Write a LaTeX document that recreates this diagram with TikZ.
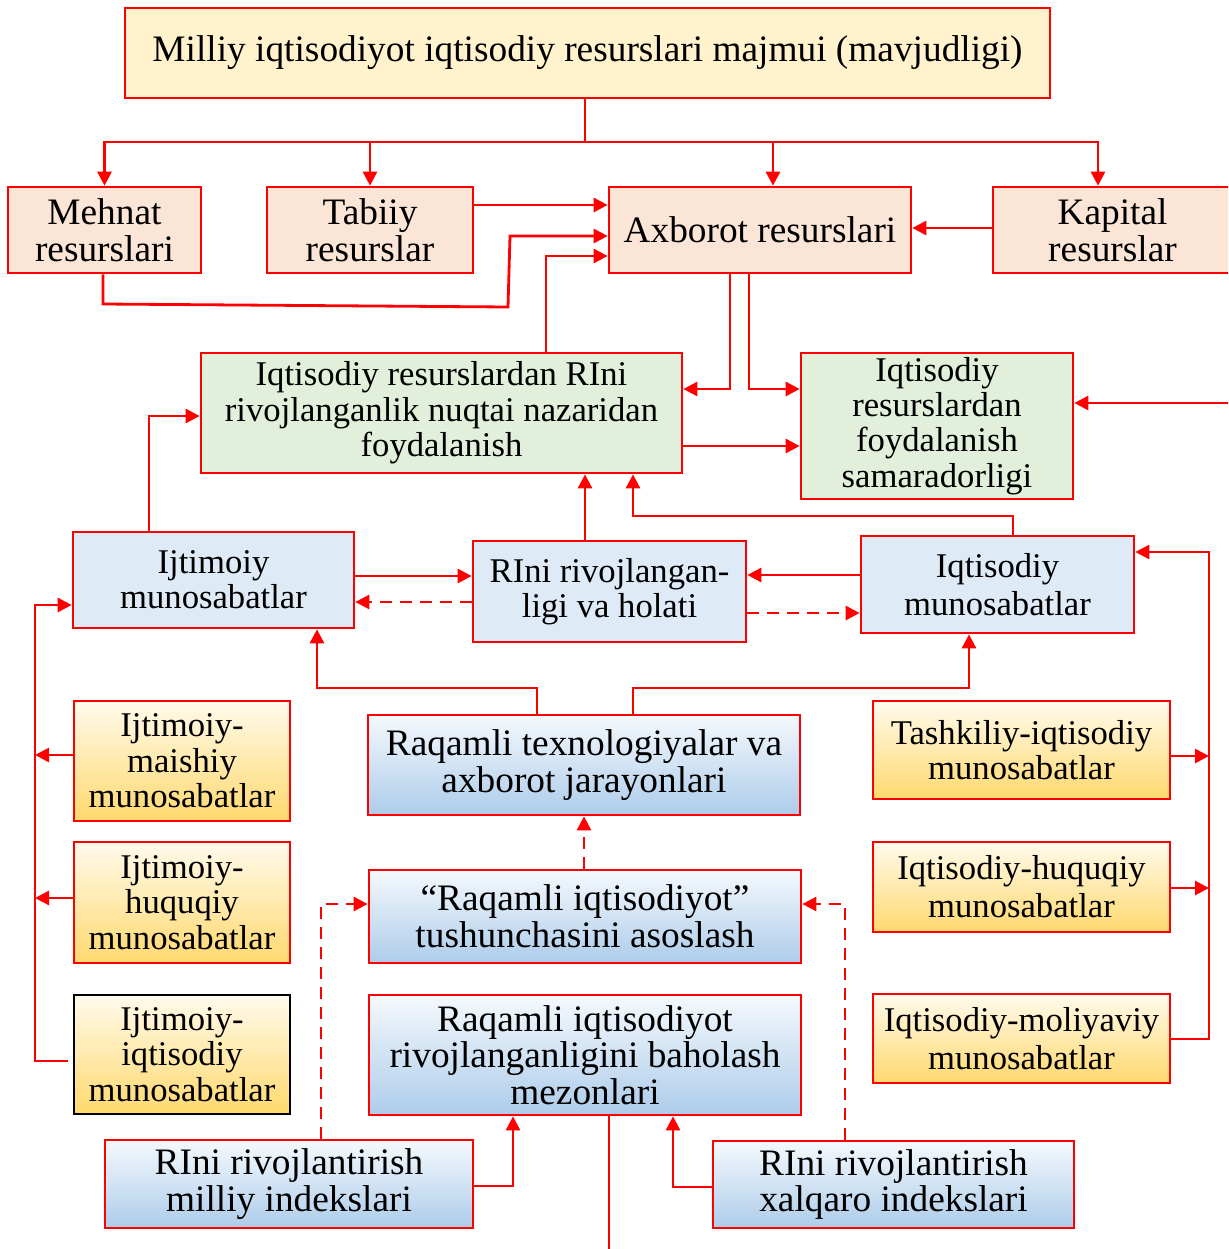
\documentclass[tikz,border=0pt]{standalone}
\usepackage{fontspec}
\setmainfont{Liberation Serif}
\usetikzlibrary{arrows.meta,calc}
\definecolor{topfill}{HTML}{FFF2CC}
\definecolor{peach}{HTML}{FBE5D6}
\definecolor{greenfill}{HTML}{E2EFDA}
\definecolor{bluefill}{HTML}{DEEBF7}
\definecolor{bluetop}{HTML}{F5F9FD}
\definecolor{bluebot}{HTML}{ADCCEA}
\definecolor{goldtop}{HTML}{FFFAEC}
\definecolor{goldbot}{HTML}{FFD96E}
\definecolor{linered}{HTML}{FF0000}
\newcommand\mkbox[7]{%
  \pgfmathsetmacro\bxw{(#4-#2)*0.75}%
  \pgfmathsetmacro\bxh{(#5-#3)*0.75}%
  \node[#6, minimum width=\bxw pt, minimum height=\bxh pt] (#1) at ({(#2+#4)/2},{(#3+#5)/2}) {#7};}
\begin{document}
\begin{tikzpicture}[x=0.75pt,y=-0.75pt,
  font=\fontsize{26}{26.5}\selectfont,
  bigtxt/.style={font=\fontsize{28}{27.5}\selectfont},
  boxbase/.style={draw=linered, line width=2pt, align=center, inner sep=1pt},
  topbox/.style={boxbase, bigtxt, fill=topfill},
  resbox/.style={boxbase, bigtxt, fill=peach},
  greenbox/.style={boxbase, fill=greenfill},
  bluebox/.style={boxbase, fill=bluefill},
  gradblue/.style={boxbase, bigtxt, top color=bluetop, bottom color=bluebot},
  gradgold/.style={boxbase, top color=goldtop, bottom color=goldbot},
  conn/.style={draw=linered, line width=2.1pt},
  arr/.style={conn, -{Triangle[length=10.5pt,width=10.5pt]}},
  dsh/.style={dash pattern=on 9pt off 6pt}]
\clip (0,0) rectangle (1228,1249);
\fill[white] (0,0) rectangle (1228,1249);

% nodes
\mkbox{top}{125}{8}{1050}{98}{topbox}{Milliy iqtisodiyot iqtisodiy resurslari majmui (mavjudligi)}
\mkbox{mehnat}{8}{187}{201}{273}{resbox}{Mehnat\\resurslari}
\mkbox{tabiiy}{267}{187}{473}{273}{resbox}{Tabiiy\\resurslar}
\mkbox{axborot}{609}{187}{911}{273}{resbox}{Axborot resurslari}
\mkbox{kapital}{993}{187}{1232}{273}{resbox}{Kapital\\resurslar}
\mkbox{gone}{201}{353}{682}{473}{greenbox}{Iqtisodiy resurslardan RIni\\rivojlanganlik nuqtai nazaridan\\foydalanish}
\mkbox{gtwo}{801}{353}{1073}{499}{greenbox}{Iqtisodiy\\resurslardan\\foydalanish\\samaradorligi}
\mkbox{ijt}{73}{532}{354}{628}{bluebox}{Ijtimoiy\\munosabatlar}
\mkbox{rini}{473}{541}{746}{642}{bluebox}{RIni rivojlangan-\\ligi va holati}
\mkbox{iqm}{861}{536}{1134}{633}{bluebox}{Iqtisodiy\\[2pt]munosabatlar}
\mkbox{raq}{368}{715}{800}{815}{gradblue}{Raqamli texnologiyalar va\\axborot jarayonlari}
\mkbox{tush}{369}{870}{801}{963}{gradblue}{“Raqamli iqtisodiyot”\\tushunchasini asoslash}
\mkbox{mez}{369}{995}{801}{1115}{gradblue}{Raqamli iqtisodiyot\\rivojlanganligini baholash\\mezonlari}
\mkbox{mil}{105}{1140}{473}{1228}{gradblue}{RIni rivojlantirish\\milliy indekslari}
\mkbox{xal}{713}{1141}{1074}{1228}{gradblue}{RIni rivojlantirish\\xalqaro indekslari}
\mkbox{maishiy}{74}{701}{290}{821}{gradgold}{Ijtimoiy-\\maishiy\\munosabatlar}
\mkbox{huq}{74}{842}{290}{963}{gradgold}{Ijtimoiy-\\huquqiy\\munosabatlar}
\mkbox{iqt}{74}{995}{290}{1114}{gradgold, draw=black}{Ijtimoiy-\\iqtisodiy\\munosabatlar}
\mkbox{tash}{873}{701}{1170}{799}{gradgold}{Tashkiliy-iqtisodiy\\munosabatlar}
\mkbox{ihuq}{873}{842}{1170}{932}{gradgold}{Iqtisodiy-huquqiy\\[2pt]munosabatlar}
\mkbox{mol}{873}{994}{1170}{1083}{gradgold}{Iqtisodiy-moliyaviy\\[2pt]munosabatlar}

% top fan-out
\coordinate (hub) at (585,142);
\draw[conn] (top.south -| hub) -- (hub);
\draw[arr] (hub) -| (mehnat.north);
\draw[arr] (hub) -| (tabiiy.north);
\draw[arr] (hub) -| ($(axborot.north)+(13,0)$);
\draw[arr] (hub) -| ($(kapital.north)+(-14.5,0)$);

% into Axborot
\draw[arr] (tabiiy.east |- 0,205) -- (axborot.west |- 0,205);
\draw[arr] (mehnat.south -| 103,0) -- (103,304) -- (508,307) -- (510,236) -- (axborot.west |- 0,236);
\draw[arr] (gone.north -| 546,0) |- (axborot.west |- 0,256);
\draw[arr] (kapital.west |- 0,228) -- (axborot.east |- 0,228);

% out of Axborot
\draw[arr] (axborot.south -| 730,0) |- (gone.east |- 0,389);
\draw[arr] (axborot.south -| 749,0) |- (gtwo.west |- 0,389);
\draw[arr] (gone.east |- 0,446) -- (gtwo.west |- 0,446);
\coordinate (redge) at (1232,403);
\draw[arr] (redge) -- (gtwo.east |- redge);

% middle row
\draw[arr] (ijt.north -| 149,0) |- (gone.west |- 0,416);
\draw[arr] (ijt.east |- 0,576) -- (rini.west |- 0,576);
\draw[arr,dsh] (rini.west |- 0,602) -- (ijt.east |- 0,602);
\draw[arr] (rini.north -| 585,0) -- (gone.south -| 585,0);
\draw[arr] (iqm.west |- 0,575) -- (rini.east |- 0,575);
\draw[arr,dsh] (rini.east |- 0,613) -- (iqm.west |- 0,613);
\draw[arr] (iqm.north -| 1013,0) |- (633,516) -- (gone.south -| 633,0);

% Raqamli texnologiyalar
\draw[arr] (raq.north -| 537,0) |- (317,688) -- (ijt.south -| 317,0);
\draw[arr] (raq.north -| 633,0) |- (969,688) -- (iqm.south -| 969,0);

% lower centre
\draw[arr,dsh] (tush.north -| 584,0) -- (raq.south -| 584,0);
\draw[arr,dsh] (mil.north -| 321,0) |- (tush.west |- 0,904);
\draw[arr,dsh] (xal.north -| 845,0) |- (tush.east |- 0,904);
\draw[arr] (mil.east |- 0,1186) -| (mez.south -| 513,0);
\draw[arr] (xal.west |- 0,1187) -| (mez.south -| 673,0);
\coordinate (bedge) at (609,1252);
\draw[conn] (mez.south -| bedge) -- (bedge);

% left column
\draw[arr] ($(iqt.west |- 0,1061)+(-5,0)$) -- (35,1061) |- (ijt.west |- 0,605);
\draw[arr] (maishiy.west |- 0,755) -- (35,755);
\draw[arr] (huq.west |- 0,898) -- (35,898);

% right column
\draw[arr] (mol.east |- 0,1039) -- (1209,1039) |- (iqm.east |- 0,552);
\draw[arr] (tash.east |- 0,756) -- (1209,756);
\draw[arr] (ihuq.east |- 0,888) -- (1209,888);
\end{tikzpicture}
\end{document}
